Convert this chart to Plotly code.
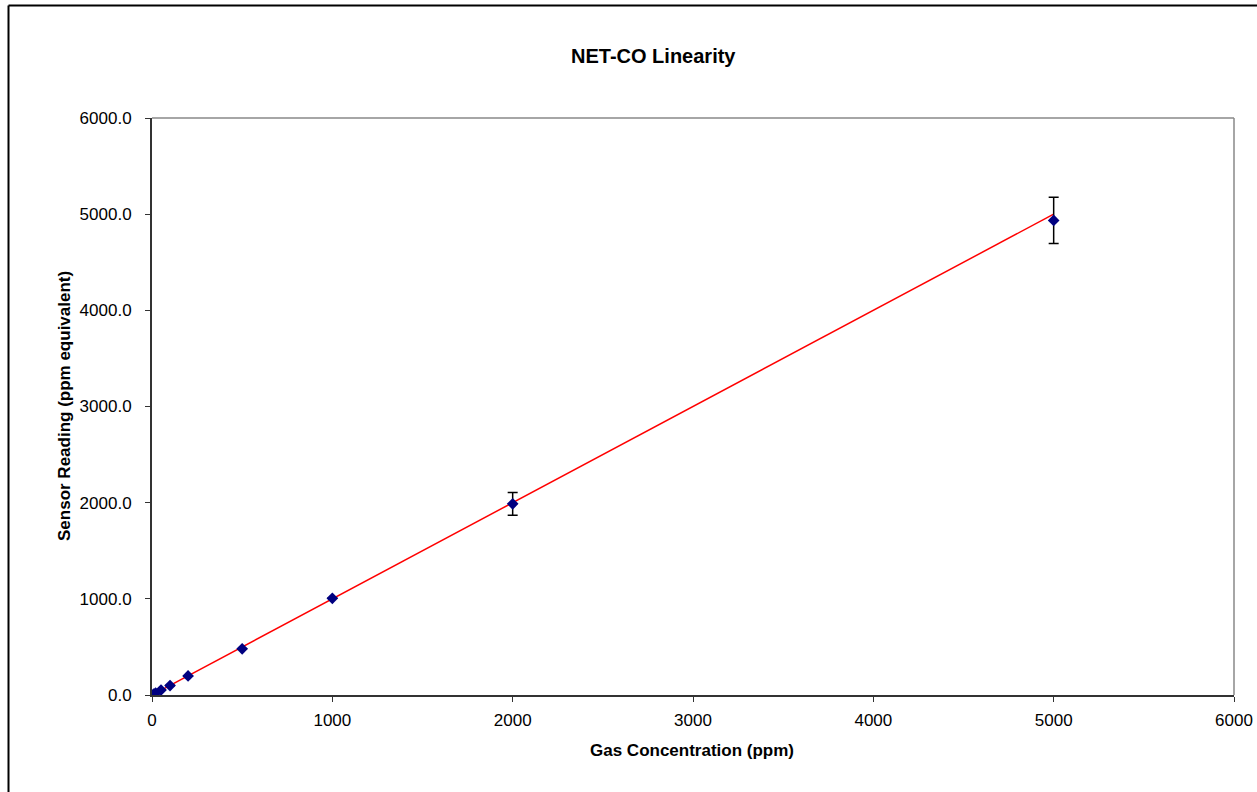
import plotly.graph_objects as go

gas_ppm = [0, 10, 20, 50, 100, 200, 500, 1000, 2000, 5000]
sensor_reading = [0, 10, 20, 52, 98, 198, 480, 1005, 1988, 4935]
error_plus = [0, 0, 0, 0, 0, 0, 0, 0, 118, 240]
fit_x = [0, 5000]
fit_y = [0, 5000]

x_ticks = [0, 1000, 2000, 3000, 4000, 5000, 6000]
y_ticks = [0, 1000, 2000, 3000, 4000, 5000, 6000]

W, H = 1257, 792
L, R, T, B = 152, 1234, 118, 695

fig = go.Figure()
fig.add_trace(go.Scatter(x=fit_x, y=fit_y, mode="lines",
                         line=dict(color="#ff0000", width=1.5), showlegend=False,
                         hoverinfo="skip"))
fig.add_trace(go.Scatter(
    x=gas_ppm, y=sensor_reading, mode="markers",
    marker=dict(symbol="diamond", size=9, color="#000080"),
    error_y=dict(type="data", array=error_plus, visible=True, color="black",
                 thickness=1.5, width=5),
    showlegend=False))

def px(x):
    return (x - L) / (R - L)

def py(y):
    return (B - y) / (B - T)

font = dict(family="Liberation Sans, Arial, sans-serif", color="black")

fig.update_layout(
    width=W, height=H,
    margin=dict(l=L, r=W - R, t=T, b=H - B, autoexpand=False),
    paper_bgcolor="white", plot_bgcolor="white",
    font=dict(size=17, **font),
    xaxis=dict(range=[0, 6000], tickvals=x_ticks, ticks="outside", ticklen=5,
               tickcolor="#333", showgrid=False, zeroline=False,
               showline=True, linecolor="#333", linewidth=2, mirror=False,
               automargin=False, ticklabelstandoff=4,
               tickfont=dict(size=17, **font)),
    yaxis=dict(range=[0, 6000], tickvals=y_ticks, tickformat=".1f",
               ticks="outside", ticklen=5, tickcolor="#333",
               showgrid=False, zeroline=False, showline=True,
               linecolor="#333", linewidth=2, automargin=False,
               ticklabelstandoff=10,
               tickfont=dict(size=17, **font)),
    shapes=[
        dict(type="line", xref="paper", yref="paper", x0=0, x1=1, y0=1, y1=1,
             line=dict(color="#888", width=1.5)),
        dict(type="line", xref="paper", yref="paper", x0=1, x1=1, y0=0, y1=1,
             line=dict(color="#888", width=1.5)),
        dict(type="line", xref="paper", yref="paper", x0=px(8.5), x1=px(8.5),
             y0=py(800), y1=py(5.5), line=dict(color="black", width=2)),
        dict(type="line", xref="paper", yref="paper", x0=px(8.5), x1=px(1300),
             y0=py(5.5), y1=py(5.5), line=dict(color="black", width=2)),
    ],
    annotations=[
        dict(text="<b>NET-CO Linearity</b>", xref="paper", yref="paper",
             x=px(653), y=py(56), showarrow=False, xanchor="center",
             yanchor="middle", font=dict(size=20, **font)),
        dict(text="<b>Gas Concentration (ppm)</b>", xref="paper", yref="paper",
             x=px(692), y=py(750), showarrow=False, xanchor="center",
             yanchor="middle", font=dict(size=17, **font)),
        dict(text="<b>Sensor Reading (ppm equivalent)</b>", xref="paper",
             yref="paper", x=px(64), y=py(406), showarrow=False,
             xanchor="center", yanchor="middle", textangle=-90,
             font=dict(size=17, **font)),
    ],
)

fig.write_html("out.html", config={"displayModeBar": False},
               post_script="document.body.style.margin='0';document.body.style.overflow='hidden';")
